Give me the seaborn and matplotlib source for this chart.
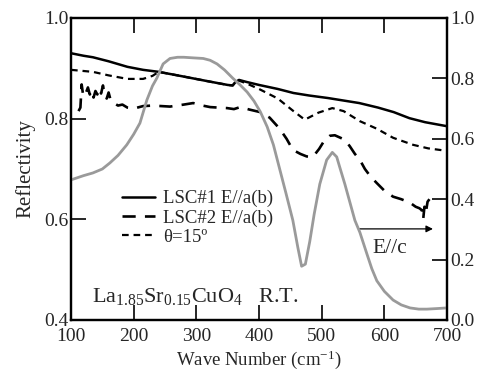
import numpy as np
import pandas as pd
import matplotlib
matplotlib.use("Agg")
import matplotlib.pyplot as plt
import seaborn as sns

# ---- data ----
w_lsc1 = [100,120,135,160,190,215,240,270,295,320,350,358,362,368,380,400,430,455,480,510,535,560,590,615,640,665,700]
r_lsc1 = [0.930,0.925,0.922,0.914,0.903,0.897,0.893,0.886,0.880,0.874,0.867,0.866,0.872,0.877,0.873,0.867,0.859,0.851,0.846,0.841,0.836,0.831,0.822,0.813,0.801,0.793,0.785]

w_theta = [100,135,160,190,215,230,240,270,295,320,350,358,365,380,400,430,455,473,495,517,535,561,588,614,646,670,700]
r_theta = [0.897,0.893,0.886,0.879,0.879,0.885,0.893,0.886,0.880,0.874,0.867,0.866,0.877,0.870,0.859,0.840,0.815,0.798,0.812,0.821,0.815,0.795,0.780,0.762,0.748,0.741,0.736]

w_lsc2 = [112,115,117,119,121,124,127,130,133,136,139,142,145,148,151,154,157,160,163,166,170,175,182,190,200,215,230,258,280,295,310,322,335,349,360,370,385,402,417,433,444,454,466,476,486,496,505,513,521,530,537,545,553,561,569,578,588,600,614,627,641,650,656,660,662,664,666,669,672]
r_lsc2 = [0.815,0.822,0.868,0.850,0.858,0.852,0.862,0.848,0.856,0.842,0.855,0.848,0.860,0.850,0.866,0.845,0.840,0.852,0.838,0.832,0.830,0.826,0.828,0.822,0.820,0.825,0.826,0.824,0.828,0.831,0.826,0.823,0.822,0.821,0.819,0.823,0.818,0.813,0.802,0.780,0.760,0.738,0.730,0.725,0.724,0.740,0.758,0.766,0.767,0.762,0.758,0.745,0.730,0.718,0.700,0.685,0.672,0.657,0.645,0.640,0.633,0.625,0.622,0.618,0.600,0.625,0.612,0.635,0.640]

w_c = [100,120,135,150,162,175,189,200,210,221,230,237,247,258,270,280,295,311,322,333,345,358,370,381,392,402,413,423,433,443,454,462,468,474,481,488,497,508,517,524,529,537,545,553,561,572,580,588,600,614,627,641,655,668,685,700]
r_c = [0.464,0.478,0.487,0.500,0.520,0.545,0.580,0.615,0.652,0.728,0.775,0.801,0.848,0.866,0.870,0.870,0.868,0.866,0.860,0.848,0.828,0.801,0.778,0.755,0.725,0.690,0.640,0.580,0.500,0.420,0.330,0.240,0.178,0.185,0.260,0.350,0.450,0.530,0.555,0.540,0.505,0.450,0.390,0.330,0.290,0.220,0.170,0.130,0.095,0.066,0.050,0.040,0.036,0.036,0.038,0.040]

labels = ["LSC#1 E//a(b)", "LSC#2 E//a(b)", "\u03b8=15\u00ba"]
x_ticks = [100, 200, 300, 400, 500, 600, 700]
y_ticks_left = [0.4, 0.6, 0.8, 1.0]
y_ticks_right = [0.0, 0.2, 0.4, 0.6, 0.8, 1.0]

# ---- style ----
sns.set_style("ticks")
plt.rcParams['font.family'] = ['Liberation Serif', 'DejaVu Serif']
plt.rcParams['mathtext.fontset'] = 'custom'
plt.rcParams['mathtext.rm'] = 'Liberation Serif'
plt.rcParams['mathtext.it'] = 'Liberation Serif:italic'
plt.rcParams['mathtext.bf'] = 'Liberation Serif:bold'

fig = plt.figure(figsize=(4.81, 3.73), dpi=100)
ax = fig.add_axes([71/481, 1-320/373, 376/481, 302/373])
ax2 = ax.twinx()

sns.lineplot(x=w_lsc1, y=r_lsc1, ax=ax, color='black', lw=1.8, label=labels[0],
             estimator=None, sort=False)
sns.lineplot(x=w_lsc2, y=r_lsc2, ax=ax, color='black', lw=1.9, linestyle=(0, (5, 3.5)),
             label=labels[1], estimator=None, sort=False)
sns.lineplot(x=w_theta, y=r_theta, ax=ax, color='black', lw=1.6, linestyle=(0, (3, 2.2)),
             label=labels[2], estimator=None, sort=False)
sns.lineplot(x=w_c, y=r_c, ax=ax2, color='#9a9a9a', lw=2.0, estimator=None, sort=False)

ax.set_xlim(100, 700)
ax.set_ylim(0.4, 1.0)
ax2.set_ylim(0.0, 1.0)
ax.set_xticks(x_ticks)
ax.set_yticks(y_ticks_left)
ax.set_yticklabels([f"{v:.1f}" for v in y_ticks_left])
ax2.set_yticks(y_ticks_right)
ax2.set_yticklabels([f"{v:.1f}" for v in y_ticks_right])

for a in (ax, ax2):
    for s in a.spines.values():
        s.set_visible(True)
        s.set_linewidth(1.6)
        s.set_color('black')
ax.tick_params(axis='x', direction='in', length=11, width=1.4, top=True, labelsize=14, pad=6)
ax.tick_params(axis='y', direction='in', length=11, width=1.4, labelsize=14, pad=2)
ax2.tick_params(axis='y', direction='in', length=11, width=1.4, labelsize=14, pad=2)

ax.set_xlabel("Wave Number (cm$^{-1}$)", fontsize=13.5, labelpad=2)
ax.set_ylabel("Reflectivity", fontsize=15, labelpad=6)
ax2.set_ylabel("")

ax.legend(loc='upper left', bbox_to_anchor=(0.115, 0.455), frameon=False, fontsize=13.5,
          handlelength=1.75, handletextpad=0.45, labelspacing=0.1, borderaxespad=0)

ax.annotate("", xy=(682, 0.581), xytext=(556, 0.581),
            arrowprops=dict(arrowstyle='-|>', color='black', lw=0.9, mutation_scale=10))
ax.text(581, 0.543, "E//c", fontsize=15.5, va='center', ha='left')
ax.text(133, 0.436, r"La$_{1.85}$Sr$_{0.15}$CuO$_4$   R.T.", fontsize=16, va='baseline', ha='left')

fig.savefig("out.png", dpi=100)
